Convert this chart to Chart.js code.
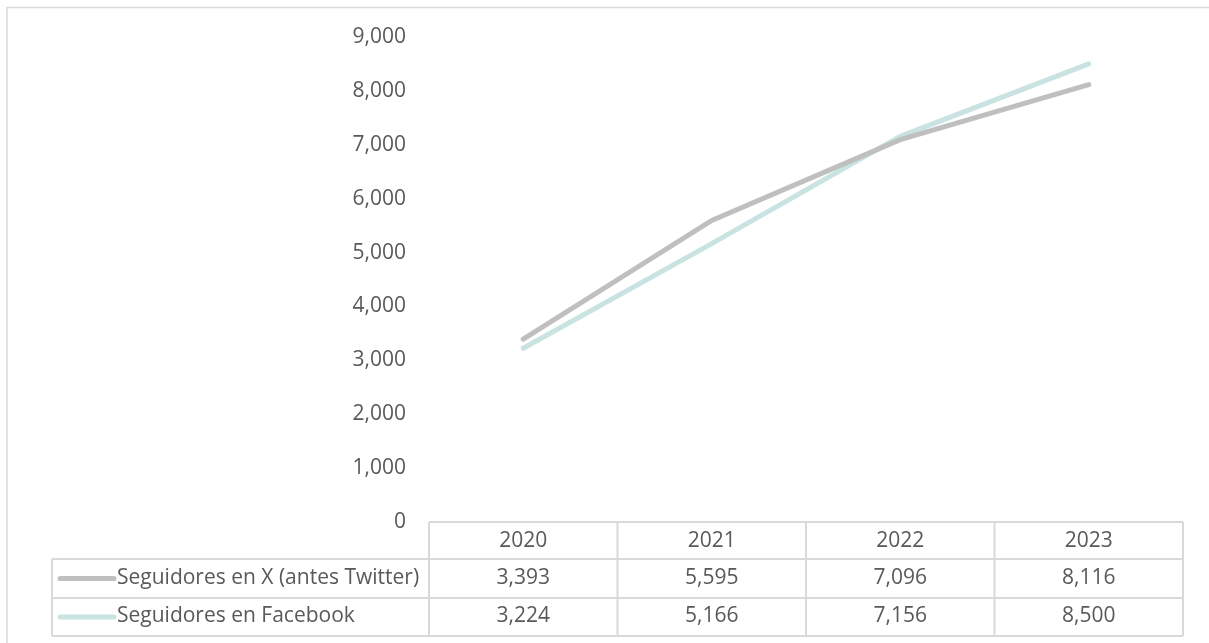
<!DOCTYPE html>
<html>
<head>
<meta charset="utf-8">
<script src="https://cdn.jsdelivr.net/npm/chart.js@4.4.1/dist/chart.umd.min.js"></script>
<style>
  html, body { margin: 0; padding: 0; background: #fff; }
  #wrap { position: relative; width: 1209px; height: 643px; }
</style>
</head>
<body>
<div id="wrap"><canvas id="grafico" width="1209" height="643"></canvas></div>
<script>
const anios = ['2020', '2021', '2022', '2023'];
const seguidoresX = [3393, 5595, 7096, 8116];
const seguidoresFacebook = [3224, 5166, 7156, 8500];
const nombresSeries = ['Seguidores en X (antes Twitter)', 'Seguidores en Facebook'];
const coloresSeries = ['#BFBFBF', '#C8E3E1'];

const familia = '"Open Sans", "Noto Sans", sans-serif';
const fuente = '21px ' + familia;
const colorTexto = '#595959';
const colorBorde = '#D9D9D9';

const fmt = v => v.toLocaleString('en-US');

// tabla de datos debajo del gráfico (como en Excel)
const tablaDatos = {
  id: 'tablaDatos',
  afterDraw(chart) {
    const ctx = chart.ctx;
    const x = chart.scales.x;
    const area = chart.chartArea;
    const anchoCol = (area.right - area.left) / anios.length;
    const filaH = [37, 39, 38];
    const y0 = area.bottom;
    const y1 = y0 + filaH[0];
    const y2 = y1 + filaH[1];
    const y3 = y2 + filaH[2];
    const izq = 52;

    ctx.save();
    // marco exterior
    ctx.strokeStyle = colorBorde;
    ctx.lineWidth = 1.5;
    ctx.beginPath();
    ctx.moveTo(7, 643); ctx.lineTo(7, 7.5); ctx.lineTo(1209, 7.5);
    ctx.stroke();

    ctx.lineWidth = 2;
    ctx.beginPath();
    // líneas horizontales
    ctx.moveTo(area.left, y0); ctx.lineTo(area.right, y0);
    ctx.moveTo(izq, y1); ctx.lineTo(area.right, y1);
    ctx.moveTo(izq, y2); ctx.lineTo(area.right, y2);
    ctx.moveTo(izq, y3); ctx.lineTo(area.right, y3);
    // líneas verticales
    ctx.moveTo(izq, y1); ctx.lineTo(izq, y3);
    for (let i = 0; i <= anios.length; i++) {
      const px = area.left + i * anchoCol;
      ctx.moveTo(px, y0); ctx.lineTo(px, y3);
    }
    ctx.stroke();

    ctx.font = fuente;
    ctx.fillStyle = colorTexto;
    ctx.textBaseline = 'middle';
    ctx.textAlign = 'center';
    anios.forEach((a, i) => {
      const cx = x.getPixelForValue(i);
      ctx.fillText(a, cx, (y0 + y1) / 2 + 1);
      ctx.fillText(fmt(seguidoresX[i]), cx, (y1 + y2) / 2);
      ctx.fillText(fmt(seguidoresFacebook[i]), cx, (y2 + y3) / 2 - 1);
    });

    // leyenda dentro de la tabla
    const filas = [(y1 + y2) / 2, (y2 + y3) / 2];
    filas.forEach((cy, k) => {
      ctx.strokeStyle = coloresSeries[k];
      ctx.lineWidth = 5;
      ctx.lineCap = 'round';
      ctx.beginPath();
      ctx.moveTo(60, cy); ctx.lineTo(114, cy);
      ctx.stroke();
      ctx.fillStyle = colorTexto;
      ctx.textAlign = 'left';
      ctx.fillText(nombresSeries[k], 117, cy - k);
    });
    ctx.restore();
  }
};

new Chart(document.getElementById('grafico').getContext('2d'), {
  type: 'line',
  data: {
    labels: anios,
    datasets: [{
      label: nombresSeries[0],
      data: seguidoresX,
      borderColor: coloresSeries[0],
      borderWidth: 5,
      borderCapStyle: 'round',
      pointRadius: 0,
      fill: false,
      tension: 0
    }, {
      label: nombresSeries[1],
      data: seguidoresFacebook,
      borderColor: coloresSeries[1],
      borderWidth: 5,
      borderCapStyle: 'round',
      pointRadius: 0,
      fill: false,
      tension: 0
    }]
  },
  options: {
    responsive: false,
    animation: false,
    layout: { padding: { left: 0, top: 37, right: 26, bottom: 121 } },
    plugins: { legend: { display: false }, tooltip: { enabled: false } },
    scales: {
      x: { display: false, offset: true },
      y: {
        min: 0,
        max: 9000,
        afterFit: s => { s.width = 429; },
        grid: { display: false, drawTicks: false },
        border: { display: false },
        ticks: {
          stepSize: 1000,
          padding: 23,
          color: colorTexto,
          font: { family: familia, size: 21 },
          callback: v => fmt(v)
        }
      }
    }
  },
  plugins: [tablaDatos]
});
</script>
</body>
</html>
